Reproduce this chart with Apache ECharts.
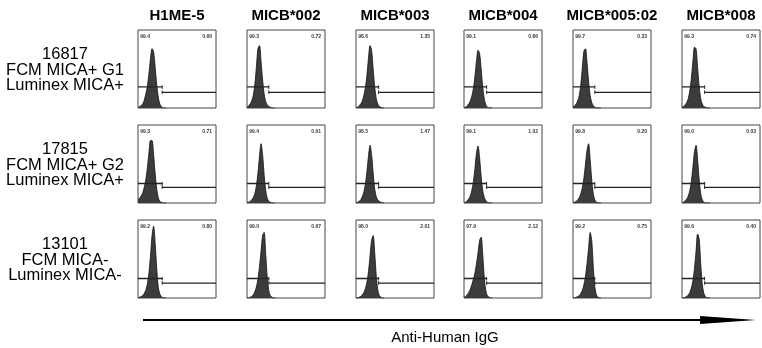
<!DOCTYPE html>
<html>
<head>
<meta charset="utf-8">
<script src="https://cdn.jsdelivr.net/npm/echarts@6/dist/echarts.min.js"></script>
<style>
  html, body { margin: 0; padding: 0; background: #fff; }
  #main { width: 762px; height: 348px; }
</style>
</head>
<body>
<div id="main"></div>
<script>
// Column / row headers
const columns = ['H1ME-5', 'MICB*002', 'MICB*003', 'MICB*004', 'MICB*005:02', 'MICB*008'];
const rowLabels = [
  '16817\nFCM MICA+ G1\nLuminex MICA+',
  '17815\nFCM MICA+ G2\nLuminex MICA+',
  '13101\nFCM MICA-\nLuminex MICA-'
];

// channel bins (x) shared by every histogram
const histX = [0, 2, 4, 6, 8, 10, 12, 14, 16, 18, 20, 22, 24, 26, 28, 30, 32, 34, 36];

// counts (as % of panel height), row by row
const histRow1 = [
  [0, 2, 3, 5, 10, 18, 28, 44, 63, 76, 72, 52, 30, 14, 5, 2, 0, 0, 0],
  [1, 3, 5, 9, 16, 30, 52, 76, 80, 60, 36, 18, 8, 4, 2, 1, 0, 0, 0],
  [0, 1, 3, 5, 9, 16, 26, 42, 64, 80, 74, 50, 27, 12, 5, 2, 1, 0, 0],
  [0, 1, 3, 5, 9, 15, 25, 40, 60, 74, 70, 50, 27, 12, 4, 1, 0, 0, 0],
  [1, 3, 5, 9, 16, 30, 52, 73, 76, 58, 34, 16, 7, 3, 1, 0, 0, 0, 0],
  [1, 2, 4, 7, 12, 22, 38, 60, 78, 76, 52, 28, 12, 5, 2, 1, 0, 0, 0]
];
const histRow2 = [
  [4, 6, 9, 13, 20, 30, 45, 64, 80, 80, 62, 38, 18, 7, 2, 1, 0, 0, 0],
  [0, 1, 2, 4, 7, 12, 22, 38, 60, 76, 62, 36, 16, 6, 2, 1, 0, 0, 0],
  [0, 1, 2, 4, 8, 14, 24, 40, 60, 74, 62, 38, 18, 8, 4, 2, 1, 0, 0],
  [0, 1, 3, 5, 9, 16, 27, 44, 64, 73, 58, 34, 16, 7, 3, 1, 0, 0, 0],
  [0, 1, 2, 4, 7, 12, 20, 32, 50, 68, 76, 56, 30, 12, 4, 1, 0, 0, 0],
  [0, 1, 3, 5, 9, 16, 28, 46, 66, 74, 56, 30, 12, 4, 1, 0, 0, 0, 0]
];
const histRow3 = [
  [0, 1, 2, 3, 6, 10, 18, 32, 54, 80, 92, 70, 38, 14, 5, 2, 0, 0, 0],
  [0, 0, 1, 2, 4, 8, 14, 24, 40, 60, 80, 84, 56, 26, 9, 3, 1, 0, 0],
  [0, 0, 1, 2, 4, 7, 12, 20, 34, 54, 74, 80, 58, 28, 10, 3, 1, 0, 0],
  [1, 2, 4, 7, 11, 17, 24, 32, 44, 58, 74, 78, 56, 26, 9, 3, 1, 0, 0],
  [0, 0, 1, 2, 3, 6, 10, 17, 28, 44, 64, 84, 74, 40, 14, 4, 1, 0, 0],
  [0, 0, 1, 2, 4, 7, 13, 22, 38, 60, 82, 76, 44, 18, 6, 2, 0, 0, 0]
];
const histData = [histRow1, histRow2, histRow3];

// gate statistics printed in each panel (negative / positive %)
const negPct = [
  ['99.4', '99.3', '98.6', '99.1', '99.7', '99.3'],
  ['99.3', '99.4', '98.5', '99.1', '99.8', '99.0'],
  ['99.2', '99.0', '98.0', '97.9', '99.2', '99.6']
];
const posPct = [
  ['0.66', '0.72', '1.35', '0.86', '0.33', '0.74'],
  ['0.71', '0.61', '1.47', '1.02', '0.20', '0.03'],
  ['0.80', '0.67', '2.01', '2.12', '0.75', '0.40']
];

// gate threshold per column, and marker levels per row [negative, positive]
const gateX = [31, 28, 29, 29, 28, 29];
const gateLevels = [[27, 20], [25, 20], [25, 19]];

const myChart = echarts.init(document.getElementById('main'));

const colLeft = [138, 247, 356, 464, 573, 682];
const rowTop = [30, 125, 220];
const boxW = 78, boxH = 78;

let grids = [], xAxes = [], yAxes = [], series = [], graphics = [];

function segment(idx, pts, w) {
  return {
    type: 'line', xAxisIndex: idx, yAxisIndex: idx, data: pts,
    symbol: 'none', smooth: false, silent: true,
    lineStyle: { color: '#222', width: w }
  };
}

for (let r = 0; r < 3; r++) {
  for (let c = 0; c < 6; c++) {
    const idx = r * 6 + c;
    grids.push({
      left: colLeft[c], top: rowTop[r], width: boxW, height: boxH,
      show: true, borderColor: '#444', borderWidth: 1, backgroundColor: '#fff'
    });
    xAxes.push({ gridIndex: idx, type: 'value', min: 0, max: 100, show: false });
    yAxes.push({ gridIndex: idx, type: 'value', min: 0, max: 100, show: false });

    // histogram
    series.push({
      type: 'line', xAxisIndex: idx, yAxisIndex: idx,
      data: histX.map((x, i) => [x, histData[r][c][i]]),
      smooth: 0.3, symbol: 'none',
      lineStyle: { color: '#111', width: 0.8 },
      areaStyle: { color: '#3c3c3c', opacity: 1 },
      silent: true
    });

    // gate marker: negative bar, positive bar, end ticks
    const g = gateX[c];
    const lv = gateLevels[r];
    series.push(segment(idx, [[0, lv[0]], [g, lv[0]]], 1.3));
    series.push(segment(idx, [[g, lv[0] + 2], [g, lv[0] - 2.5]], 1));
    series.push(segment(idx, [[g, lv[1]], [100, lv[1]]], 1.3));
    series.push(segment(idx, [[g, lv[1] + 2.5], [g, lv[1] - 2]], 1));

    // percent labels
    series.push({
      type: 'scatter', xAxisIndex: idx, yAxisIndex: idx,
      symbolSize: 0, silent: true,
      data: [[3, 91, negPct[r][c], 'left'], [95, 91, posPct[r][c], 'right']].map(d => ({
        value: d,
        label: { align: d[3] }
      })),
      label: {
        show: true, position: 'inside',
        formatter: p => p.value[2],
        fontSize: 5, fontWeight: 'bold', color: '#000',
        fontFamily: 'Liberation Sans'
      }
    });
  }
}

// column titles
columns.forEach((name, c) => {
  graphics.push({
    type: 'text', x: colLeft[c] + boxW / 2, y: 16,
    style: {
      text: name, textAlign: 'center', textVerticalAlign: 'middle',
      font: 'bold 15px "Liberation Sans"', fill: '#000'
    }
  });
});
// row titles
rowLabels.forEach((t, r) => {
  graphics.push({
    type: 'text', x: 65, y: rowTop[r] + 40,
    style: {
      text: t, textAlign: 'center', textVerticalAlign: 'middle',
      font: '16.5px "Liberation Sans"', lineHeight: 15.5, fill: '#000'
    }
  });
});
// axis arrow and label
graphics.push({
  type: 'line', shape: { x1: 143, y1: 320, x2: 705, y2: 320 },
  style: { stroke: '#000', lineWidth: 2 }
});
graphics.push({
  type: 'polygon', shape: { points: [[700, 316], [756, 320], [700, 324]] },
  style: { fill: '#000' }
});
graphics.push({
  type: 'text', x: 445, y: 338,
  style: {
    text: 'Anti-Human IgG', textAlign: 'center', textVerticalAlign: 'middle',
    font: '15px "Liberation Sans"', fill: '#000'
  }
});

let option = {
  backgroundColor: '#fff',
  animation: false,
  grid: grids,
  xAxis: xAxes,
  yAxis: yAxes,
  series: series,
  graphic: graphics
};
myChart.setOption(option);
</script>
</body>
</html>
